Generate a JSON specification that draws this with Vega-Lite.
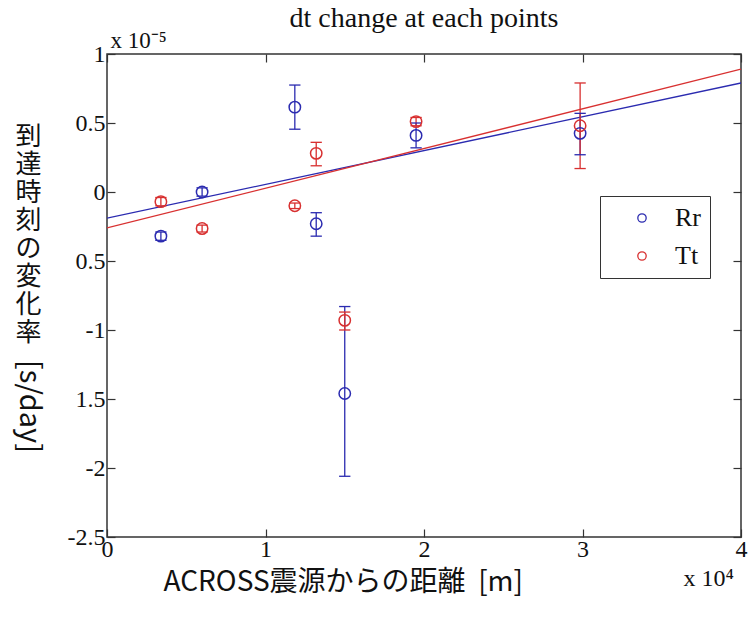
{
  "$schema": "https://vega.github.io/schema/vega-lite/v6.json",
  "width": 634,
  "height": 483,
  "autosize": {"type": "none"},
  "padding": {"left": 107, "top": 54, "right": 8, "bottom": 91},
  "background": "white",
  "title": {"text": "dt change at each points", "font": "Liberation Serif", "fontSize": 28, "fontWeight": "normal", "anchor": "middle", "frame": "group", "offset": -4, "color": "#111"},
  "config": {
    "view": {"stroke": "#333", "strokeWidth": 1.5},
    "axis": {"grid": false, "domain": false, "tickSize": -8, "tickColor": "#333", "tickWidth": 1.2, "labelFont": "Liberation Serif", "labelFontSize": 24, "labelColor": "#111", "titleColor": "#111", "titleFontWeight": "normal", "labelFlush": false, "labelOverlap": false}
  },
  "datasets": {
    "pts": [
      {"s": "Rr", "x": 0.34, "y": -0.32, "lo": -0.35, "hi": -0.29},
      {"s": "Rr", "x": 0.60, "y": 0.0, "lo": -0.03, "hi": 0.03},
      {"s": "Rr", "x": 1.185, "y": 0.615, "lo": 0.455, "hi": 0.775},
      {"s": "Rr", "x": 1.32, "y": -0.23, "lo": -0.32, "hi": -0.15},
      {"s": "Rr", "x": 1.50, "y": -1.46, "lo": -2.06, "hi": -0.83},
      {"s": "Rr", "x": 1.95, "y": 0.41, "lo": 0.32, "hi": 0.50},
      {"s": "Rr", "x": 2.985, "y": 0.425, "lo": 0.27, "hi": 0.57},
      {"s": "Tt", "x": 0.34, "y": -0.07, "lo": -0.10, "hi": -0.04},
      {"s": "Tt", "x": 0.60, "y": -0.265, "lo": -0.29, "hi": -0.24},
      {"s": "Tt", "x": 1.185, "y": -0.10, "lo": -0.12, "hi": -0.08},
      {"s": "Tt", "x": 1.32, "y": 0.28, "lo": 0.19, "hi": 0.36},
      {"s": "Tt", "x": 1.50, "y": -0.93, "lo": -1.00, "hi": -0.87},
      {"s": "Tt", "x": 1.95, "y": 0.51, "lo": 0.48, "hi": 0.54},
      {"s": "Tt", "x": 2.985, "y": 0.48, "lo": 0.17, "hi": 0.79}
    ],
    "fit": [
      {"s": "Rr", "x": 0, "y": -0.19},
      {"s": "Rr", "x": 4, "y": 0.79},
      {"s": "Tt", "x": 0, "y": -0.26},
      {"s": "Tt", "x": 4, "y": 0.89}
    ]
  },
  "layer": [
    {
      "data": {"name": "fit"},
      "mark": {"type": "line", "strokeWidth": 1.3, "clip": true},
      "encoding": {
        "x": {"field": "x", "type": "quantitative", "scale": {"domain": [0, 4], "nice": false, "zero": false},
          "axis": {"orient": "bottom", "values": [0, 1, 2, 3, 4], "labelPadding": 8, "title": "ACROSS震源からの距離\u00a0\u00a0[m]", "titleFont": "Noto Sans CJK JP", "titleFontSize": 28, "titleX": 56, "titleY": 45, "titleAlign": "left", "titleBaseline": "middle"}},
        "y": {"field": "y", "type": "quantitative", "scale": {"domain": [-2.5, 1], "nice": false, "zero": false},
          "axis": {"orient": "left", "values": [-2.5, -2, -1.5, -1, -0.5, 0, 0.5, 1], "labelPadding": 10, "labelExpr": "datum.value == -0.5 ? '0.5' : datum.value == -1.5 ? '1.5' : toString(datum.value)", "title": ["到", "達", "時", "刻", "の", "変", "化", "率"], "titleAngle": 0, "titleFont": "Noto Sans CJK JP", "titleFontSize": 26, "titleLineHeight": 28, "titleX": -79, "titleY": 69, "titleAlign": "center", "titleBaseline": "top"}},
        "color": {"field": "s", "type": "nominal", "scale": {"domain": ["Rr", "Tt"], "range": ["#2b2bb0", "#d83030"]}}
      }
    },
    {
      "data": {"name": "pts"},
      "mark": {"type": "rule", "strokeWidth": 1.3},
      "encoding": {
        "x": {"field": "x", "type": "quantitative",
          "axis": {"orient": "top", "values": [0, 1, 2, 3, 4], "labels": false, "title": "x 10⁻⁵", "titleFont": "Liberation Serif", "titleFontSize": 23, "titleAngle": 0, "titleX": 3, "titleY": -14, "titleAlign": "left", "titleBaseline": "middle"}},
        "y": {"field": "lo", "type": "quantitative",
          "axis": {"orient": "right", "values": [-2.5, -2, -1.5, -1, -0.5, 0, 0.5, 1], "labels": false, "title": "x 10⁴", "titleFont": "Liberation Serif", "titleFontSize": 24, "titleAngle": 0, "titleX": -58, "titleY": 524, "titleAlign": "left", "titleBaseline": "middle"}},
        "y2": {"field": "hi"},
        "color": {"field": "s", "type": "nominal"}
      }
    },
    {
      "data": {"name": "pts"},
      "transform": [{"fold": ["lo", "hi"], "as": ["k", "v"]}],
      "mark": {"type": "tick", "orient": "horizontal", "size": 10, "thickness": 0.01, "filled": false, "strokeWidth": 1.3, "opacity": 1},
      "encoding": {
        "x": {"field": "x", "type": "quantitative", "axis": null},
        "y": {"field": "v", "type": "quantitative",
          "axis": {"orient": "left", "labels": false, "ticks": false, "title": "[s/day]", "titleFont": "Noto Sans CJK JP", "titleFontSize": 29, "titleAngle": 90, "titleX": -79, "titleY": 352, "titleAlign": "center", "titleBaseline": "middle"}},
        "color": {"field": "s", "type": "nominal"}
      }
    },
    {
      "data": {"name": "pts"},
      "mark": {"type": "point", "shape": "circle", "filled": false, "size": 130, "strokeWidth": 1.5, "opacity": 1},
      "encoding": {
        "x": {"field": "x", "type": "quantitative", "axis": null},
        "y": {"field": "y", "type": "quantitative", "axis": null},
        "color": {"field": "s", "type": "nominal",
          "legend": {"orient": "none", "legendX": 493, "legendY": 142, "title": null, "symbolType": "circle", "symbolSize": 70, "symbolStrokeWidth": 1.3, "symbolFillColor": "white", "symbolOpacity": 1, "symbolOffset": 20, "labelOffset": 20, "labelFont": "Liberation Serif", "labelFontSize": 26, "labelColor": "#111", "strokeColor": "#333", "fillColor": "white", "padding": 9, "rowPadding": 12}}
      }
    }
  ],
  "resolve": {"axis": {"x": "independent", "y": "independent"}}
}
